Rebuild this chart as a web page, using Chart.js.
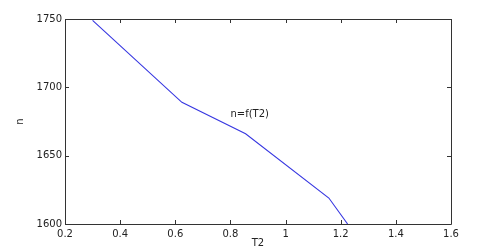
<!DOCTYPE html>
<html>
<head>
<meta charset="utf-8">
<script src="https://cdn.jsdelivr.net/npm/chart.js@4/dist/chart.umd.min.js"></script>
<style>
  html, body { margin: 0; padding: 0; background: #fff; }
  #wrap { width: 497px; height: 252px; }
</style>
</head>
<body>
<div id="wrap"><canvas id="curveChart"></canvas></div>
<script>
// data
const t2Values = [0.30, 0.624, 0.855, 1.157, 1.225];
const nValues = [1749, 1689, 1666, 1619, 1600];
const xTicks = [0.2, 0.4, 0.6, 0.8, 1, 1.2, 1.4, 1.6];
const yTicks = [1600, 1650, 1700, 1750];
const curveLabel = "n=f(T2)";
const labelAt = [0.80, 1680];

const points = t2Values.map((x, i) => ({ x: x, y: nValues[i] }));
const fontFamily = "'DejaVu Sans', sans-serif";

// box + inward ticks on all four sides, plus the text label
const matlabBox = {
    id: "matlabBox",
    afterDraw(chart) {
        const ctx = chart.ctx;
        const a = chart.chartArea;
        const xs = chart.scales.x, ys = chart.scales.y;
        ctx.save();
        ctx.strokeStyle = "#333";
        ctx.lineWidth = 1;
        ctx.beginPath();
        ctx.rect(Math.round(a.left) + 0.5, Math.round(a.top) + 0.5,
                 Math.round(a.right - a.left), Math.round(a.bottom - a.top));
        xTicks.forEach(v => {
            const px = Math.round(xs.getPixelForValue(v)) + 0.5;
            ctx.moveTo(px, a.bottom); ctx.lineTo(px, a.bottom - 4);
            ctx.moveTo(px, a.top); ctx.lineTo(px, a.top + 4);
        });
        yTicks.forEach(v => {
            const py = Math.round(ys.getPixelForValue(v)) + 0.5;
            ctx.moveTo(a.left, py); ctx.lineTo(a.left + 4, py);
            ctx.moveTo(a.right, py); ctx.lineTo(a.right - 4, py);
        });
        ctx.stroke();

        ctx.fillStyle = "#222";
        ctx.font = "10px " + fontFamily;
        ctx.textAlign = "left";
        ctx.textBaseline = "middle";
        ctx.fillText(curveLabel, xs.getPixelForValue(labelAt[0]), ys.getPixelForValue(labelAt[1]));
        ctx.restore();
    }
};

new Chart(document.getElementById("curveChart"), {
    type: "scatter",
    data: {
        datasets: [{
            label: curveLabel,
            data: points,
            showLine: true,
            borderColor: "rgb(55,55,225)",
            borderWidth: 1.1,
            pointRadius: 0,
            fill: false
        }]
    },
    options: {
        responsive: true,
        maintainAspectRatio: false,
        animation: false,
        layout: { padding: { top: 19, right: 46, left: 0, bottom: 0 } },
        plugins: { legend: { display: false }, tooltip: { enabled: false } },
        scales: {
            x: {
                type: "linear",
                min: 0.2,
                max: 1.6,
                afterBuildTicks: s => { s.ticks = xTicks.map(v => ({ value: v })); },
                afterFit: s => { s.height = 28; },
                grid: { display: false, drawTicks: false },
                border: { display: false },
                ticks: {
                    padding: 4,
                    color: "#222",
                    font: { family: fontFamily, size: 10 },
                    callback: v => String(+Number(v).toFixed(2)),
                    maxRotation: 0
                },
                title: {
                    display: true,
                    text: "T2",
                    color: "#222",
                    font: { family: fontFamily, size: 10 },
                    padding: { top: 0, bottom: 3 }
                }
            },
            y: {
                type: "linear",
                min: 1600,
                max: 1750,
                afterBuildTicks: s => { s.ticks = yTicks.map(v => ({ value: v })); },
                afterFit: s => { s.width = 65; },
                grid: { display: false, drawTicks: false },
                border: { display: false },
                ticks: {
                    padding: 3,
                    color: "#222",
                    font: { family: fontFamily, size: 10 },
                    callback: v => String(v)
                },
                title: {
                    display: true,
                    text: "n",
                    color: "#222",
                    font: { family: fontFamily, size: 10 },
                    padding: { top: 14, bottom: 0 }
                }
            }
        }
    },
    plugins: [matlabBox]
});
</script>
</body>
</html>
